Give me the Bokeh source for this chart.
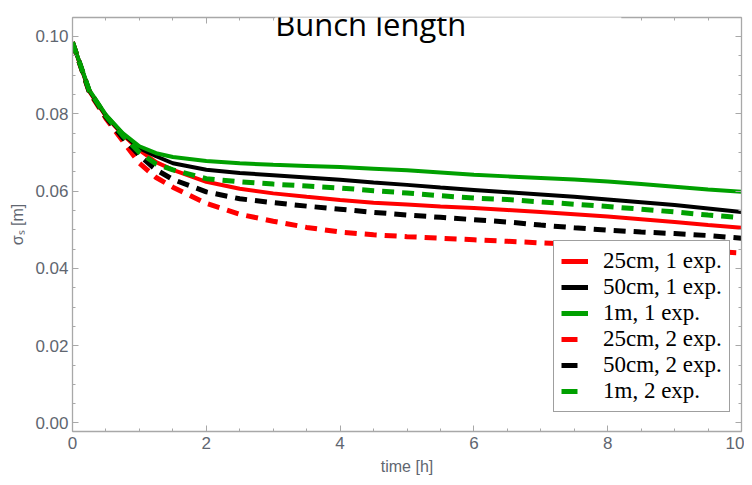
from bokeh.plotting import figure
from bokeh.models import (Range1d, LinearAxis, Legend, LegendItem, Label,
                          SingleIntervalTicker, NumeralTickFormatter, CustomJSTickFormatter)
from bokeh.embed import file_html
from bokeh.resources import INLINE

# ---- data ----
t = [0, 0.25, 0.5, 0.75, 1, 1.25, 1.5, 2, 2.5, 3, 3.5, 4, 4.5, 5, 5.5, 6, 6.5, 7,
     7.5, 8, 8.5, 9, 9.5, 10]

red_1exp = [0.0985, 0.0858, 0.0793, 0.0746, 0.0706, 0.0675, 0.0655, 0.0624, 0.0606,
            0.0594, 0.0585, 0.0577, 0.0570, 0.0565, 0.0560, 0.0556, 0.0551, 0.0546,
            0.0540, 0.0534, 0.0527, 0.0520, 0.0512, 0.0505]
black_1exp = [0.0985, 0.0860, 0.0795, 0.0748, 0.0711, 0.0690, 0.0672, 0.0655, 0.0647,
              0.0641, 0.0635, 0.0629, 0.0622, 0.0616, 0.0609, 0.0603, 0.0597, 0.0591,
              0.0585, 0.0578, 0.0571, 0.0564, 0.0555, 0.0546]
green_1exp = [0.0985, 0.0862, 0.0797, 0.0750, 0.0716, 0.0698, 0.0688, 0.0678, 0.0672,
              0.0668, 0.0665, 0.0662, 0.0658, 0.0654, 0.0648, 0.0642, 0.0638, 0.0634,
              0.0630, 0.0625, 0.0618, 0.0611, 0.0604, 0.0598]
red_2exp = [0.0985, 0.0856, 0.0788, 0.0730, 0.0672, 0.0635, 0.0610, 0.0568, 0.0540,
            0.0522, 0.0506, 0.0494, 0.0487, 0.0482, 0.0478, 0.0474, 0.0470, 0.0466,
            0.0462, 0.0457, 0.0453, 0.0448, 0.0444, 0.0440]
black_2exp = [0.0985, 0.0858, 0.0791, 0.0738, 0.0692, 0.0655, 0.0630, 0.0598, 0.0580,
              0.0570, 0.0561, 0.0553, 0.0545, 0.0538, 0.0532, 0.0526, 0.0520, 0.0512,
              0.0505, 0.0499, 0.0494, 0.0490, 0.0485, 0.0478]
green_2exp = [0.0985, 0.0860, 0.0794, 0.0744, 0.0700, 0.0670, 0.0655, 0.0632, 0.0624,
              0.0618, 0.0613, 0.0608, 0.0601, 0.0595, 0.0588, 0.0582, 0.0578, 0.0572,
              0.0566, 0.0560, 0.0553, 0.0546, 0.0538, 0.0531]

labels = ["25cm, 1 exp.", "50cm, 1 exp.", "1m, 1 exp.",
          "25cm, 2 exp.", "50cm, 2 exp.", "1m, 2 exp."]

RED, BLACK, GREEN = "#ff0000", "#000000", "#00a000"
NAN = float("nan")

p = figure(width=744, height=477, x_range=Range1d(0, 10), y_range=Range1d(-0.0022, 0.1049),
           output_backend="svg", toolbar_location=None,
           min_border_left=72, min_border_top=17, min_border_right=3, min_border_bottom=45)
p.outline_line_color = None
p.grid.visible = False
p.background_fill_color = "white"
p.border_fill_color = "white"

series = [(red_1exp, RED, None), (black_1exp, BLACK, None), (green_1exp, GREEN, None),
          (red_2exp, RED, "12 8"), (black_2exp, BLACK, "12 8"), (green_2exp, GREEN, "12 8")]

items = []
for (ys, col, dash), lab in zip(series, labels):
    if dash is None:
        p.line(t, ys, line_color=col, line_width=4)
        d = p.line([NAN, NAN], [NAN, NAN], line_color=col, line_width=5)
    else:
        p.line(t, ys, line_color=col, line_width=5, line_dash=dash)
        d = p.line([NAN, NAN], [NAN, NAN], line_color=col, line_width=5, line_dash="16 30")
    items.append(LegendItem(label=lab, renderers=[d]))

# axes on all four sides
p.add_layout(LinearAxis(), "above")
p.add_layout(LinearAxis(), "right")

AX = "#a8a8a8"
TICK_TXT = "#5f6670"
for ax in p.axis:
    ax.axis_line_color = AX
    ax.axis_line_width = 1.3
    ax.major_tick_line_color = AX
    ax.minor_tick_line_color = AX
    ax.major_tick_in = 6
    ax.major_tick_out = 0
    ax.minor_tick_in = 3
    ax.minor_tick_out = 0
    ax.major_label_text_font = "Liberation Sans"
    ax.major_label_text_font_size = "17px"
    ax.major_label_text_color = TICK_TXT

for ax in p.xaxis:
    ax.ticker = SingleIntervalTicker(interval=2, num_minor_ticks=4)
for ax in p.yaxis:
    ax.ticker = SingleIntervalTicker(interval=0.02, num_minor_ticks=4)

p.below[0].major_label_standoff = 5
p.left[0].formatter = NumeralTickFormatter(format="0.00")
p.left[0].major_label_standoff = 4
for ax in (p.above[0], p.right[0]):
    ax.formatter = CustomJSTickFormatter(code="return ''")
    ax.major_label_standoff = 0

p.below[0].axis_label = "time [h]"
p.left[0].axis_label = "σₛ [m]"
for ax in (p.below[0], p.left[0]):
    ax.axis_label_text_font = "Liberation Sans"
    ax.axis_label_text_font_size = "16px"
    ax.axis_label_text_font_style = "normal"
    ax.axis_label_text_color = TICK_TXT
p.below[0].axis_label_standoff = 6
p.left[0].axis_label_standoff = 6

legend = Legend(items=items, location=(481, 19))
legend.label_text_font = "Liberation Serif"
legend.label_text_font_size = "23px"
legend.label_text_color = "black"
legend.glyph_width = 27
legend.glyph_height = 26
legend.label_height = 26
legend.spacing = 0
legend.padding = 7
legend.margin = 0
legend.label_standoff = 15
legend.border_line_color = "#404040"
legend.border_line_width = 1.3
legend.background_fill_color = "white"
legend.background_fill_alpha = 1.0
p.add_layout(legend)

title = Label(x=3.03, y=0.1007, text="Bunch length", text_font="Open Sans",
              text_font_size="31px", text_color="black", text_align="left",
              text_baseline="alphabetic", background_fill_color="white",
              padding=(0, 155, 2, 22), level="overlay")
p.add_layout(title)

open("out.html", "w").write(file_html(p, INLINE))
